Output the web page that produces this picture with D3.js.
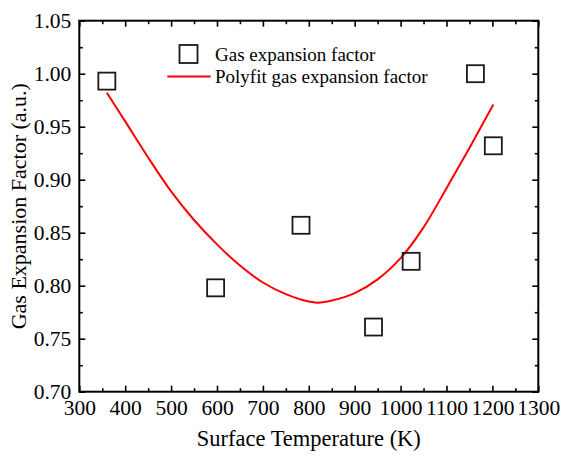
<!DOCTYPE html>
<html>
<head>
<meta charset="utf-8">
<script src="https://cdn.jsdelivr.net/npm/d3@7"></script>
<style>
  html, body { margin: 0; padding: 0; background: #fff; }
  svg { display: block; }
  text { font-family: "Liberation Serif", "Times New Roman", serif; fill: #000; }
</style>
</head>
<body>
<svg id="chart" width="561" height="458"></svg>
<script>
// Measured data points (Surface temperature K, gas expansion factor)
const tempK = [360, 597, 783, 941, 1023, 1163, 1202];
const expansion = [0.993, 0.798, 0.857, 0.761, 0.823, 1.000, 0.932];

// Polyfit curve
const fitTemp = [360, 400, 450, 500, 550, 600, 650, 700, 750, 800, 820, 850, 900, 950, 1000, 1050, 1100, 1150, 1202];
const fitValue = [0.982, 0.955, 0.921, 0.889, 0.862, 0.839, 0.819, 0.803, 0.792, 0.785, 0.784, 0.786, 0.793, 0.806, 0.826, 0.855, 0.892, 0.930, 0.971];

const xTicks = [300, 400, 500, 600, 700, 800, 900, 1000, 1100, 1200, 1300];
const yTicks = [0.70, 0.75, 0.80, 0.85, 0.90, 0.95, 1.00, 1.05];
const xMinor = [350, 450, 550, 650, 750, 850, 950, 1050, 1150, 1250];
const yMinor = [0.725, 0.775, 0.825, 0.875, 0.925, 0.975, 1.025];

const legendLabels = ["Gas expansion factor", "Polyfit gas expansion factor"];
const xTitle = "Surface Temperature (K)";
const yTitle = "Gas Expansion Factor (a.u.)";

const L = 79.3, R = 538.3, T = 20.7, B = 391.7;
const svg = d3.select("#chart");

const x = d3.scaleLinear().domain([300, 1300]).range([L, R]);
const y = d3.scaleLinear().domain([0.70, 1.05]).range([B, T]);

const majorLen = 6, minorLen = 3.5, tickW = 1.6;
const FONT = "Liberation Serif";
const TICKFS = 21.5;

// Bottom axis (ticks inward)
const gB = svg.append("g").attr("transform", `translate(0,${B})`);
gB.call(d3.axisBottom(x).tickValues(xTicks).tickSize(-majorLen).tickPadding(8).tickFormat(d3.format("d")));
gB.append("g").call(d3.axisBottom(x).tickValues(xMinor).tickSize(-minorLen).tickFormat(""));
// Top axis
const gT = svg.append("g").attr("transform", `translate(0,${T})`);
gT.call(d3.axisTop(x).tickValues(xTicks).tickSize(-majorLen).tickFormat(""));
gT.append("g").call(d3.axisTop(x).tickValues(xMinor).tickSize(-minorLen).tickFormat(""));
// Left axis
const gL = svg.append("g").attr("transform", `translate(${L},0)`);
gL.call(d3.axisLeft(y).tickValues(yTicks).tickSize(-majorLen).tickPadding(8).tickFormat(d3.format(".2f")));
gL.append("g").call(d3.axisLeft(y).tickValues(yMinor).tickSize(-minorLen).tickFormat(""));
// Right axis
const gR = svg.append("g").attr("transform", `translate(${R},0)`);
gR.call(d3.axisRight(y).tickValues(yTicks).tickSize(-majorLen).tickFormat(""));
gR.append("g").call(d3.axisRight(y).tickValues(yMinor).tickSize(-minorLen).tickFormat(""));

svg.selectAll(".domain").remove();
svg.selectAll("g").attr("font-family", FONT).attr("font-size", TICKFS);
svg.selectAll(".tick line").attr("stroke", "#000").attr("stroke-width", tickW);
svg.selectAll(".tick text").attr("fill", "#000")
  .style("font-family", FONT).style("font-size", TICKFS + "px");

// Frame
svg.append("rect").attr("x", L).attr("y", T).attr("width", R - L).attr("height", B - T)
  .attr("fill", "none").attr("stroke", "#000").attr("stroke-width", 2);

// Fit curve
const fitData = fitTemp.map((t, i) => [t, fitValue[i]]);
svg.append("path").datum(fitData)
  .attr("fill", "none").attr("stroke", "#ff0000").attr("stroke-width", 2)
  .attr("d", d3.line().x(d => x(d[0])).y(d => y(d[1])).curve(d3.curveCatmullRom));

// Squares
const sq = 17;
svg.append("g").selectAll("rect").data(tempK.map((t, i) => [t, expansion[i]])).join("rect")
  .attr("x", d => x(d[0]) - sq / 2).attr("y", d => y(d[1]) - sq / 2)
  .attr("width", sq).attr("height", sq)
  .attr("fill", "none").attr("stroke", "#1a1a1a").attr("stroke-width", 1.8);

// Legend
const lg = svg.append("g");
lg.append("rect").attr("x", 188.5 - 9).attr("y", 54 - 9).attr("width", 18).attr("height", 18)
  .attr("fill", "none").attr("stroke", "#1a1a1a").attr("stroke-width", 1.8);
lg.append("text").attr("x", 215).attr("y", 60.5).style("font-size", "19px").text(legendLabels[0]);
lg.append("line").attr("x1", 167.3).attr("x2", 210.7).attr("y1", 76.5).attr("y2", 76.5)
  .attr("stroke", "#ff0000").attr("stroke-width", 2);
lg.append("text").attr("x", 215).attr("y", 83.3).style("font-size", "19px").text(legendLabels[1]);

// Axis titles
svg.append("text").attr("x", (L + R) / 2).attr("y", 446).attr("text-anchor", "middle")
  .style("font-size", "22.5px").text(xTitle);
svg.append("text").attr("transform", `translate(26,${(T + B) / 2}) rotate(-90)`).attr("text-anchor", "middle")
  .style("font-size", "22px").text(yTitle);
</script>
</body>
</html>
